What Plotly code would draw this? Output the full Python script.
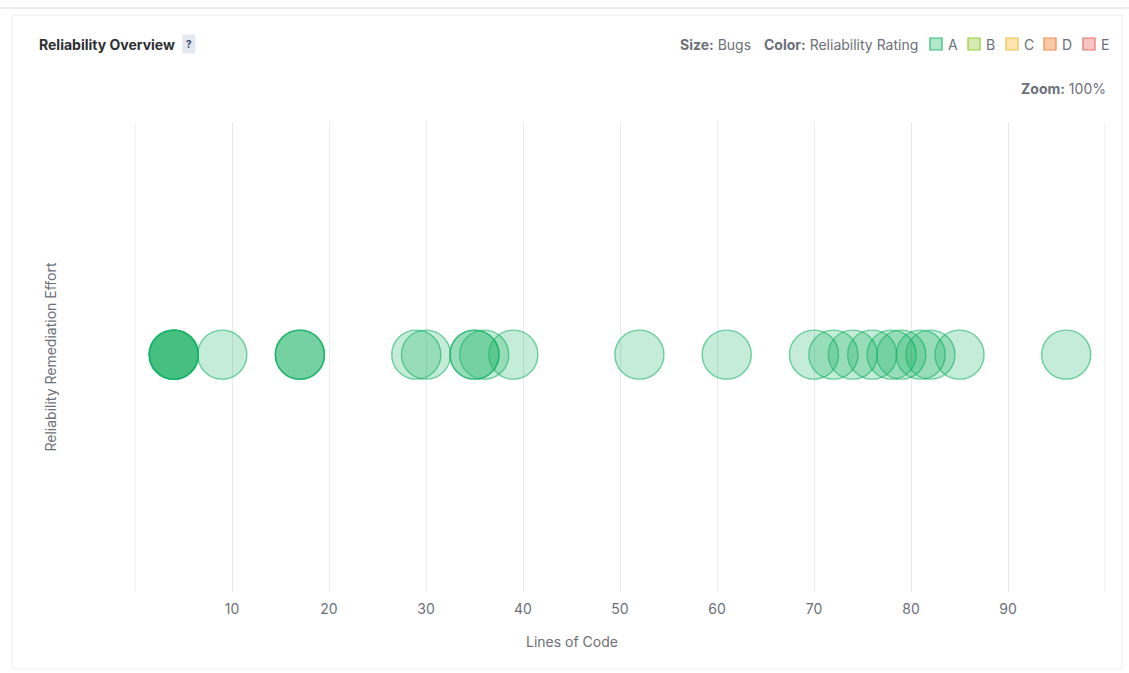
import plotly.graph_objects as go

# Bubble data: one entry per file
lines_of_code = [4, 4, 4, 4, 4, 9, 17, 17, 17, 29, 30, 35, 35, 36, 39, 52, 61,
                 70, 72, 74, 76, 78, 79, 81, 82, 85, 96]
remediation_effort = [0, 0, 0, 0, 0, 0, 0, 0, 0, 0, 0, 0, 0, 0, 0, 0, 0,
                      0, 0, 0, 0, 0, 0, 0, 0, 0, 0]
bugs = [1, 1, 1, 1, 1, 1, 1, 1, 1, 1, 1, 1, 1, 1, 1, 1, 1,
        1, 1, 1, 1, 1, 1, 1, 1, 1, 1]

x_ticks = [0, 10, 20, 30, 40, 50, 60, 70, 80, 90, 100]
x_tick_text = ["", "10", "20", "30", "40", "50", "60", "70", "80", "90", ""]
x_bounds = [0, 100]

ratings = ["A", "B", "C", "D", "E"]
rating_line = ["#2fbf71", "#96cc3a", "#f4c04a", "#ee8a4f", "#ee6e6e"]
rating_fill = ["#b4e8cc", "#d6ecb2", "#fde4b0", "#f9c8a8", "#f9c4c4"]

W, H = 1129, 673
L, R, T, B = 135, 24, 122, 81
PW, PH = W - L - R, H - T - B


def px(x):
    return (x - L) / PW


def py(y):
    return (H - B - y) / PH


FONT = "Inter, Roboto, sans-serif"
GREY = "#6b7079"
DARK = "#2d2f33"
FS = 14

fig = go.Figure()
fig.add_trace(go.Scatter(
    x=lines_of_code,
    y=remediation_effort,
    mode="markers",
    marker=dict(
        size=bugs,
        sizemode="diameter",
        sizeref=1 / 49,
        color="rgba(0,170,85,0.32)",
        line=dict(color="rgba(24,180,104,0.9)", width=1.4),
    ),
    hoverinfo="skip",
    showlegend=False,
))

shapes = [
    # card outline
    dict(type="line", xref="paper", yref="paper", x0=px(0), x1=px(1129),
         y0=py(8), y1=py(8), line=dict(color="#e4e6eb", width=1.5)),
    dict(type="rect", xref="paper", yref="paper", x0=px(12), x1=px(1122),
         y0=py(15), y1=py(669), line=dict(color="#eceef2", width=1),
         layer="below"),
]
# grid lines at both ends of the x range
for xb in x_bounds:
    shapes.append(dict(type="line", xref="x", yref="paper", x0=xb, x1=xb,
                       y0=0, y1=1, line=dict(color="#e8e9ec", width=1),
                       layer="below"))

annotations = [
    dict(text="<b>Reliability Overview</b>", x=px(37), y=py(44),
         xanchor="left", yanchor="middle",
         font=dict(size=FS, color=DARK, family=FONT)),
    dict(text="<b>?</b>", x=px(188.5), y=py(44), xanchor="center",
         yanchor="middle", bgcolor="#e3e7f0", borderpad=3,
         font=dict(size=10, color="#3f4a66", family=FONT)),
    dict(text="<b>Size:</b> Bugs", x=px(678), y=py(44), xanchor="left",
         yanchor="middle", font=dict(size=FS, color=GREY, family=FONT)),
    dict(text="<b>Color:</b> Reliability Rating", x=px(762), y=py(44),
         xanchor="left", yanchor="middle",
         font=dict(size=FS, color=GREY, family=FONT)),
    dict(text="<b>Zoom:</b> 100%", x=px(1108), y=py(88), xanchor="right",
         yanchor="middle", font=dict(size=FS, color=GREY, family=FONT)),
    dict(text="Lines of Code", x=px(572), y=py(641), xanchor="center",
         yanchor="middle", font=dict(size=FS, color=GREY, family=FONT)),
]

# rating legend: coloured squares with their letters
legend_x = [930, 968, 1006, 1044, 1083]
for i, r in enumerate(ratings):
    x0 = legend_x[i]
    shapes.append(dict(type="rect", xref="paper", yref="paper",
                       x0=px(x0), x1=px(x0 + 12), y0=py(38), y1=py(50),
                       fillcolor=rating_fill[i],
                       line=dict(color=rating_line[i], width=1.2)))
    annotations.append(dict(text=r, x=px(x0 + 16), y=py(44), xanchor="left",
                            yanchor="middle",
                            font=dict(size=FS, color=GREY, family=FONT)))

for a in annotations:
    a.update(xref="paper", yref="paper", showarrow=False)

fig.update_layout(
    width=W, height=H,
    margin=dict(l=L, r=R, t=T, b=B),
    paper_bgcolor="white",
    plot_bgcolor="white",
    font=dict(family=FONT, color=GREY, size=FS),
    shapes=shapes,
    annotations=annotations,
    xaxis=dict(
        range=x_bounds,
        tickvals=x_ticks,
        ticktext=x_tick_text,
        showgrid=True,
        gridcolor="#e8e9ec",
        gridwidth=1,
        zeroline=False,
        showline=False,
        ticks="",
        ticklabelstandoff=7,
        tickfont=dict(size=FS, color=GREY),
        fixedrange=True,
    ),
    yaxis=dict(
        range=[-1.01, 0.99],
        showgrid=False,
        zeroline=False,
        showline=False,
        showticklabels=False,
        ticks="",
        title=dict(text="Reliability Remediation Effort", standoff=74,
                   font=dict(size=FS, color=GREY)),
        fixedrange=True,
    ),
)

fig.write_html("out.html", config={"displayModeBar": False})
